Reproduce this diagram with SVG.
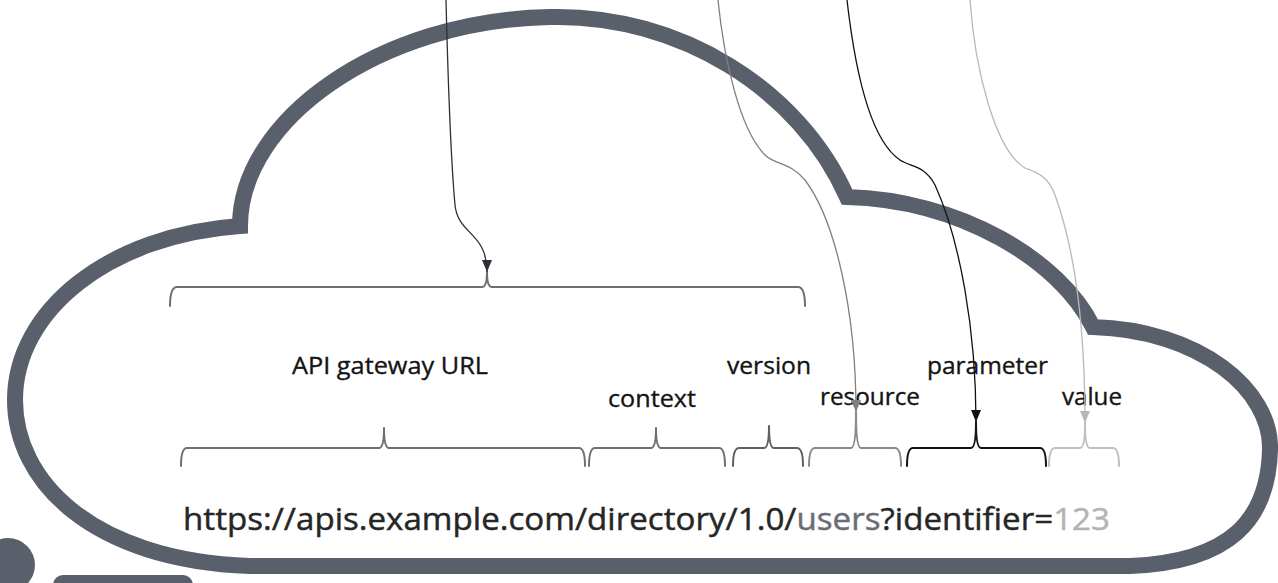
<svg xmlns="http://www.w3.org/2000/svg" width="1278" height="583" viewBox="0 0 1278 583">
<style>
text{font-family:"Open Sans","Liberation Sans",sans-serif;font-size:24px;fill:#141414;stroke:#141414;stroke-width:0.35}
.url{font-size:31px;stroke-width:0.45}
.br{fill:none;stroke-width:2;stroke-linejoin:round;stroke-linecap:round}
.cloud{fill:#ffffff;stroke:#5a606b;stroke-width:16;stroke-linejoin:miter;stroke-miterlimit:10}
.con{fill:none;stroke-width:1.3}
</style>
<defs>
<marker id="ahDark" viewBox="0 0 10 10" refX="10" refY="5" markerWidth="12" markerHeight="10" markerUnits="userSpaceOnUse" orient="auto" preserveAspectRatio="none"><path d="M0,0 L10,5 L0,10 z" fill="#2e3038"/></marker>
<marker id="ahGray" viewBox="0 0 10 10" refX="10" refY="5" markerWidth="12" markerHeight="10" markerUnits="userSpaceOnUse" orient="auto" preserveAspectRatio="none"><path d="M0,0 L10,5 L0,10 z" fill="#808080"/></marker>
<marker id="ahBlack" viewBox="0 0 10 10" refX="10" refY="5" markerWidth="12" markerHeight="10" markerUnits="userSpaceOnUse" orient="auto" preserveAspectRatio="none"><path d="M0,0 L10,5 L0,10 z" fill="#111111"/></marker>
<marker id="ahLight" viewBox="0 0 10 10" refX="10" refY="5" markerWidth="12" markerHeight="10" markerUnits="userSpaceOnUse" orient="auto" preserveAspectRatio="none"><path d="M0,0 L10,5 L0,10 z" fill="#b8b8b8"/></marker>
</defs>
<rect width="1278" height="583" fill="#ffffff"/>

<g id="cloud">
<path class="cloud" d="M 240 226 C 240 120, 380 20, 550 17 C 680 14, 800 90, 847 197 C 960 200, 1060 260, 1093 327 C 1200 330, 1272 390, 1270 450 C 1268 520, 1230 562, 1130 566 L 250 566 C 90 560, 15 480, 15 400 C 15 310, 110 235, 240 226 Z"/>
</g>
<g id="decor">
<circle cx="8" cy="565" r="27" fill="#5a606b"/>
<rect x="53" y="575" width="140" height="24" rx="10" fill="#5a606b"/>
</g>

<g id="node-gateway-top">
<path class="br" stroke="#6e6e6e" d="M 170 306 Q 170 287 177 287 L 482 287 Q 487 287 487 272 Q 487 287 492 287 L 798 287 Q 805 287 805 306"/>
</g>
<g id="node-gateway">
<text x="292" y="374" textLength="196" lengthAdjust="spacingAndGlyphs">API gateway URL</text>
<path class="br" stroke="#707070" d="M 181 466 Q 181 448 187 448 L 379 448 Q 384 448 384 428 Q 384 448 389 448 L 579 448 Q 585 448 585 466"/>
</g>
<g id="node-context">
<text x="608" y="407" textLength="88" lengthAdjust="spacingAndGlyphs">context</text>
<path class="br" stroke="#707070" d="M 589 466 Q 589 448 595 448 L 651 448 Q 656 448 656 428 Q 656 448 661 448 L 719 448 Q 725 448 725 466"/>
</g>
<g id="node-version">
<text x="727" y="374" textLength="84" lengthAdjust="spacingAndGlyphs">version</text>
<path class="br" stroke="#606060" d="M 733 466 Q 733 448 739 448 L 764 448 Q 769 448 769 426 Q 769 448 774 448 L 797 448 Q 803 448 803 466"/>
</g>
<g id="node-resource">
<text x="820" y="405" textLength="100" lengthAdjust="spacingAndGlyphs">resource</text>
<path class="br" stroke="#8a8a8a" d="M 809 466 Q 809 448 815 448 L 851 448 Q 856 448 856 412 Q 856 448 861 448 L 895 448 Q 901 448 901 466"/>
</g>
<g id="node-parameter">
<text x="927" y="374" textLength="121" lengthAdjust="spacingAndGlyphs">parameter</text>
<path class="br" stroke="#141414" d="M 907 466 Q 907 448 913 448 L 971 448 Q 976 448 976 422 Q 976 448 981 448 L 1040 448 Q 1046 448 1046 466"/>
</g>
<g id="node-value">
<text x="1062" y="405" textLength="60" lengthAdjust="spacingAndGlyphs">value</text>
<path class="br" stroke="#c0c0c0" d="M 1049 466 Q 1049 448 1055 448 L 1080 448 Q 1085 448 1085 423 Q 1085 448 1090 448 L 1113 448 Q 1119 448 1119 466"/>
</g>
<g id="node-url">
<text class="url" x="183" y="530" textLength="927" lengthAdjust="spacingAndGlyphs"><tspan fill="#262626" stroke="#262626">https://apis.example.com/directory/1.0/</tspan><tspan fill="#6c6c76" stroke="#6c6c76">users</tspan><tspan fill="#262626" stroke="#262626">?identifier=</tspan><tspan fill="#b4b4b4" stroke="#b4b4b4">123</tspan></text>
</g>

<g id="connectors">
<path class="con" stroke="#2e3038" marker-end="url(#ahDark)" d="M 446 0 C 448 80, 450 150, 455 205 C 458 235, 487 232, 487 272"/>
<path class="con" stroke="#808080" marker-end="url(#ahGray)" d="M 718 0 C 724 60, 740 130, 765 155 C 775 165, 790 162, 805 180 C 835 220, 856 310, 856 412"/>
<path class="con" stroke="#111111" marker-end="url(#ahBlack)" d="M 847 0 C 855 70, 870 140, 900 160 C 910 167, 925 165, 935 185 C 960 240, 976 330, 976 422"/>
<path class="con" stroke="#b8b8b8" marker-end="url(#ahLight)" d="M 970 0 C 975 70, 995 150, 1025 168 C 1035 172, 1048 175, 1055 195 C 1075 250, 1085 330, 1085 423"/>
</g>
</svg>
